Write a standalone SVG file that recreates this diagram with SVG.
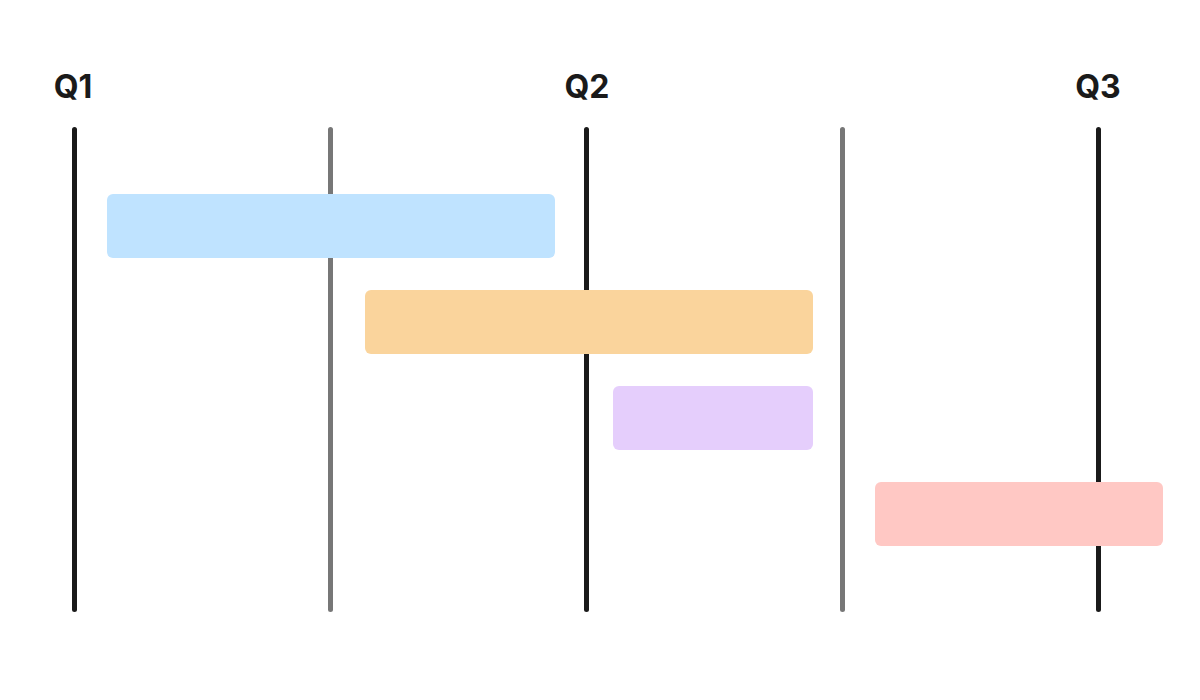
<svg xmlns="http://www.w3.org/2000/svg" width="1200" height="700" viewBox="0 0 1200 700">
  <style>
    .label { font-family: Inter, "Liberation Sans", sans-serif; font-weight: 700; font-size: 32px; fill: #1a1a1a; text-anchor: middle; }
    .major { stroke: #1a1a1a; stroke-width: 5; stroke-linecap: round; }
    .minor { stroke: #777777; stroke-width: 5; stroke-linecap: round; }
  </style>
  <rect width="1200" height="700" fill="#ffffff"/>
  <g id="labels">
    <text class="label" x="73" y="98">Q1</text>
    <text class="label" x="587" y="98">Q2</text>
    <text class="label" x="1098" y="98">Q3</text>
  </g>
  <g id="gridlines">
    <line class="major" x1="74.5" y1="129.5" x2="74.5" y2="609.5"/>
    <line class="minor" x1="330.5" y1="129.5" x2="330.5" y2="609.5"/>
    <line class="major" x1="586.5" y1="129.5" x2="586.5" y2="609.5"/>
    <line class="minor" x1="842.5" y1="129.5" x2="842.5" y2="609.5"/>
    <line class="major" x1="1098.5" y1="129.5" x2="1098.5" y2="609.5"/>
  </g>
  <g id="bar1"><rect x="107" y="194" width="448" height="64" rx="6" fill="#BFE3FF"/></g>
  <g id="bar2"><rect x="365" y="290" width="448" height="64" rx="6" fill="#FAD49C"/></g>
  <g id="bar3"><rect x="613" y="386" width="200" height="64" rx="6" fill="#E5CEFC"/></g>
  <g id="bar4"><rect x="875" y="482" width="288" height="64" rx="6" fill="#FFC8C4"/></g>
</svg>
